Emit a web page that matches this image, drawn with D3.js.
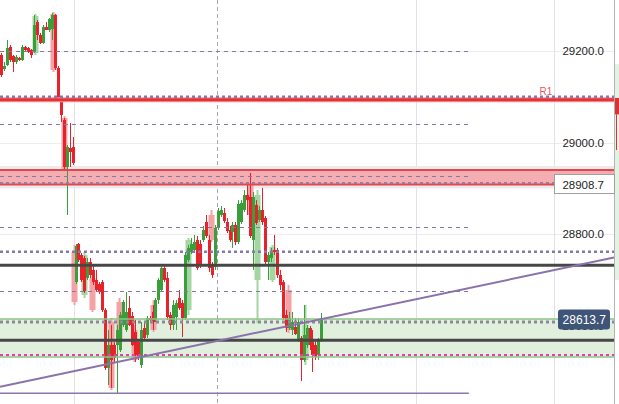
<!DOCTYPE html>
<html><head><meta charset="utf-8">
<script src="https://cdn.jsdelivr.net/npm/d3@7"></script>
<style>html,body{margin:0;padding:0;background:#fff;overflow:hidden}text{font-family:"Liberation Sans",Arial,sans-serif}</style>
</head><body><svg id="c" width="619" height="404"></svg>
<script>
// ---- DATA ----
const opens = [29191.9,29161.3,29170.1,29209.4,29189.7,29176.6,29185.4,29181.0,29209.4,29207.2,29202.9,29198.5,29264.1,29235.7,29218.2,29253.2,29246.6,29248.8,29279.4,29163.5,29097.9,29049.8,28947.0,28988.6,28990.7,
28695.5,28778.6,28754.6,28748.0,28704.3,28739.2,28721.8,28699.9,28691.1,28695.5,28634.3,28507.5,28557.7,28557.7,28557.7,28546.8,28601.5,28590.6,28638.6,28621.1,28586.2,28564.3,28514.0,28594.9,28579.6,28616.8,28629.9,28612.4,28656.2,28678.0,28726.1,28704.3,28623.3,28601.5,28618.9,28660.5,28649.6,28616.8,28743.6,28761.1,28765.5,28787.4,28778.6,28787.4,28826.7,28787.4,28730.5,28728.3,28815.8,28842.0,28846.4,28826.7,28809.2,28804.9,28820.2,28783.0,28826.7,28853.0,28885.8,28881.4,28787.4,28863.9,28831.1,28853.0,28835.5,28739.2,28748.0,28765.5,28765.5,28710.8,28695.5,28623.3,28594.9,28590.6,28597.1,28568.7,28573.1,28524.9,28557.7,28594.9,28568.7,28557.7,28535.9,28568.7];
const highs = [29196.3,29176.6,29224.7,29213.8,29191.9,29191.9,29187.6,29213.8,29211.6,29209.4,29205.0,29279.4,29268.5,29240.0,29257.5,29264.1,29272.8,29283.8,29281.6,29167.9,29102.3,29054.2,28995.1,29043.2,29012.6,
28778.6,28780.8,28758.9,28752.4,28748.0,28748.0,28732.7,28721.8,28695.5,28699.9,28638.6,28590.6,28601.5,28564.3,28601.5,28629.9,28656.2,28673.6,28664.9,28629.9,28612.4,28568.7,28608.0,28608.0,28621.1,28621.1,28645.2,28660.5,28704.3,28730.5,28730.5,28717.4,28629.9,28656.2,28656.2,28678.0,28656.2,28761.1,28776.4,28791.7,28798.3,28796.1,28787.4,28818.0,28842.0,28798.3,28739.2,28820.2,28857.3,28861.7,28857.3,28835.5,28818.0,28826.7,28826.7,28874.6,28874.6,28896.7,28912.0,28933.9,28892.3,28874.6,28861.7,28901.1,28839.8,28761.1,28769.9,28798.3,28769.9,28721.8,28699.9,28634.3,28629.9,28629.9,28616.8,28616.8,28577.4,28645.2,28601.5,28599.3,28590.6,28568.7,28573.1,28627.7];
const lows = [29143.8,29156.9,29167.9,29176.6,29154.7,29172.2,29178.8,29178.8,29200.7,29196.3,29185.4,29196.3,29224.7,29216.0,29216.0,29246.6,29242.2,29224.7,29159.1,29089.1,29045.4,28940.4,28842.0,28947.0,28951.4,
28691.1,28739.2,28695.5,28671.5,28699.9,28704.3,28688.9,28673.6,28669.3,28629.9,28503.1,28470.3,28463.7,28520.6,28452.8,28542.4,28597.1,28586.2,28599.3,28555.6,28520.6,28524.9,28507.5,28568.7,28573.1,28608.0,28590.6,28608.0,28647.4,28673.6,28695.5,28612.4,28590.6,28590.6,28590.6,28634.3,28575.3,28612.4,28739.2,28756.7,28761.1,28721.8,28726.1,28783.0,28791.7,28717.4,28704.3,28721.8,28809.2,28837.7,28824.5,28802.7,28783.0,28769.9,28776.4,28778.6,28822.4,28848.6,28842.0,28791.7,28721.8,28820.2,28826.7,28820.2,28732.7,28699.9,28739.2,28754.6,28704.3,28678.0,28612.4,28586.2,28590.6,28579.6,28579.6,28564.3,28479.0,28520.6,28551.2,28546.8,28498.7,28524.9,28524.9,28564.3];
const closes = [29148.2,29167.9,29207.2,29181.0,29176.6,29187.6,29181.0,29209.4,29202.9,29198.5,29191.9,29257.5,29235.7,29218.2,29253.2,29246.6,29270.7,29279.4,29163.5,29093.5,29060.7,28947.0,28990.7,28979.8,28955.8,
28774.2,28743.6,28699.9,28675.8,28739.2,28710.8,28695.5,28678.0,28673.6,28634.3,28507.5,28557.7,28524.9,28529.3,28590.6,28623.3,28651.8,28629.9,28601.5,28557.7,28535.9,28529.3,28590.6,28573.1,28616.8,28612.4,28608.0,28656.2,28699.9,28726.1,28699.9,28618.9,28601.5,28645.2,28649.6,28638.6,28616.8,28754.6,28769.9,28778.6,28783.0,28726.1,28732.7,28809.2,28796.1,28726.1,28710.8,28813.6,28850.8,28853.0,28828.9,28807.0,28787.4,28820.2,28783.0,28866.1,28868.3,28885.8,28874.6,28796.1,28881.4,28824.5,28853.0,28826.7,28739.2,28754.6,28758.9,28761.1,28710.8,28688.9,28616.8,28594.9,28616.8,28608.0,28581.8,28608.0,28524.9,28579.6,28594.9,28557.7,28535.9,28531.5,28568.7,28613.7];

// faded (higher-timeframe shadow) candles
const fadedBar   = [11.3, 17.3, 21.0, 24.5, 28.0, 30.6, 37.1, 39.8, 44.9, 51.3, 63.1, 70.6, 84.0, 86.3, 91.3, 96.7, 102.5];
const fadedOpen  = [29196.3,29281.6,29054.2,28761.1,28667.1,28704.3,28608.0,28651.8,28590.6,28645.2,28634.3,28842.0,28912.0,28699.9,28699.9,28678.0,28524.9];
const fadedHigh  = [29281.6,29286.0,29058.5,28776.4,28761.1,28710.8,28616.8,28660.5,28601.5,28656.2,28791.7,28853.0,28933.9,28896.7,28776.4,28688.9,28645.2];
const fadedLow   = [29191.9,29154.7,28936.1,28645.2,28660.5,28629.9,28459.3,28564.3,28520.6,28586.2,28623.3,28783.0,28839.8,28605.8,28695.5,28584.0,28514.0];
const fadedClose = [29277.2,29159.1,28940.4,28651.8,28754.6,28634.3,28463.7,28568.7,28524.9,28590.6,28787.4,28787.4,28842.0,28885.8,28772.0,28590.6,28601.5];

const priceTicks = [29200, 29000, 28800, 28600];
const priceTickLabels = ["29200.0", "29000.0", "28800.0", "28600.0"];
const timeGridLines = [24.5, 140, 186.5];   // bar index of vertical grid lines
const sessionBreaks = [72.6];              // dashed vertical separators
const dashedLevels = [29200, 29040.4, 28927.3, 28815.1, 28675.8];
const levelEndBar = 157.8;
const bottomLevel = 28452.1;
const r1Level = 29094.2, r1DotLevel = 29100.7;
const redZone = [28908.7, 28940.4];
const redZoneDot = 28912.0;
const greenZone = [28531.5, 28614.6];
const greenZoneDot = 28608.0;
const thickDottedLevels = [28761.8];
const darkLevels = [28732.0, 28568.0];
const magentaLevel = 28535.9;
const trendLine = [[-0.5, 28466.5], [206.8, 28749.0]];
const lastPrice = 28613.7, zoneLabel = 28908.7;

// ---- SCALES ----
const W = 619, H = 404, plotRight = 614;
const x = d3.scaleLinear().domain([-0.5, 208.5]).range([0, W]);
const y = d3.scaleLinear().domain([28428.7, 29312.2]).range([H, 0]);
const svg = d3.select("#c");

// grid
svg.append("g").selectAll("line").data(priceTicks).join("line")
  .attr("x1", 0).attr("x2", plotRight).attr("y1", d => Math.round(y(d)) + 0.5).attr("y2", d => Math.round(y(d)) + 0.5)
  .attr("stroke", "#ececee").attr("stroke-width", 1);
svg.append("g").selectAll("line").data(timeGridLines).join("line")
  .attr("x1", d => Math.round(x(d)) + 0.5).attr("x2", d => Math.round(x(d)) + 0.5).attr("y1", 0).attr("y2", H)
  .attr("stroke", "#e2e2e6").attr("stroke-width", 1);
svg.append("g").selectAll("line").data(sessionBreaks).join("line")
  .attr("x1", d => Math.round(x(d)) + 0.5).attr("x2", d => Math.round(x(d)) + 0.5).attr("y1", 0).attr("y2", H)
  .attr("stroke", "#a8a4b8").attr("stroke-width", 1).attr("stroke-dasharray", "4,3");

// zones (behind candles)
const rz = [y(redZone[1]), y(redZone[0])];
svg.append("rect").attr("x", 0).attr("width", plotRight).attr("y", rz[0] - 4).attr("height", rz[1] - rz[0] + 8).attr("fill", "#ebebeb");
svg.append("rect").attr("x", 0).attr("width", plotRight).attr("y", rz[0]).attr("height", rz[1] - rz[0]).attr("fill", "#f4aeb1");
const gz = [y(greenZone[1]), y(greenZone[0])];
svg.append("rect").attr("x", 0).attr("width", plotRight).attr("y", gz[0]).attr("height", gz[1] - gz[0]).attr("fill", "#e1efdd");

// faded candles
const fIdx = d3.range(fadedBar.length);
const fUp = "#a3d6a1", fDown = "#f3a2a5";
const fg = svg.append("g");
fg.selectAll("line").data(fIdx).join("line")
  .attr("x1", i => Math.round(x(fadedBar[i])) + 0.5).attr("x2", i => Math.round(x(fadedBar[i])) + 0.5)
  .attr("y1", i => y(fadedHigh[i])).attr("y2", i => y(fadedLow[i]))
  .attr("stroke", i => fadedClose[i] >= fadedOpen[i] ? fUp : fDown).attr("stroke-width", 2);
fg.selectAll("rect").data(fIdx).join("rect")
  .attr("x", i => Math.round(x(fadedBar[i])) - 2.5).attr("width", 6)
  .attr("y", i => y(Math.max(fadedOpen[i], fadedClose[i])))
  .attr("height", i => Math.max(1, Math.abs(y(fadedOpen[i]) - y(fadedClose[i]))))
  .attr("fill", i => fadedClose[i] >= fadedOpen[i] ? fUp : fDown);

// candles
const N = closes.length;
const idx = d3.range(N);
const up = "#3a9f3a", down = "#e8222a";
const cg = svg.append("g");
cg.selectAll("line").data(idx).join("line")
  .attr("x1", i => Math.round(x(i)) + 0.5).attr("x2", i => Math.round(x(i)) + 0.5)
  .attr("y1", i => y(highs[i])).attr("y2", i => y(lows[i]))
  .attr("stroke", i => closes[i] >= opens[i] ? up : down).attr("stroke-width", 1);
cg.selectAll("rect").data(idx).join("rect")
  .attr("x", i => Math.round(x(i)) - 1).attr("width", 3)
  .attr("y", i => y(Math.max(opens[i], closes[i])))
  .attr("height", i => Math.max(1, Math.abs(y(opens[i]) - y(closes[i]))))
  .attr("fill", i => closes[i] >= opens[i] ? up : down);

// zone borders
svg.append("g").selectAll("line").data(redZone).join("line")
  .attr("x1", 0).attr("x2", plotRight).attr("y1", d => y(d)).attr("y2", d => y(d))
  .attr("stroke", "#e2464e").attr("stroke-width", 2);
svg.append("g").selectAll("line").data(greenZone).join("line")
  .attr("x1", 0).attr("x2", plotRight).attr("y1", d => y(d)).attr("y2", d => y(d))
  .attr("stroke", "#8cc489").attr("stroke-width", 1.5);

// thin dashed levels
svg.append("g").selectAll("line").data(dashedLevels).join("line")
  .attr("x1", 0).attr("x2", x(levelEndBar)).attr("y1", d => Math.round(y(d)) + 0.5).attr("y2", d => Math.round(y(d)) + 0.5)
  .attr("stroke", "#8878a8").attr("stroke-width", 1).attr("stroke-dasharray", "4,4");
svg.append("line").attr("x1", 0).attr("x2", x(levelEndBar)).attr("y1", y(bottomLevel)).attr("y2", y(bottomLevel))
  .attr("stroke", "#8c78a8").attr("stroke-width", 1.5);

// R1
svg.append("line").attr("x1", 0).attr("x2", plotRight).attr("y1", y(r1Level)).attr("y2", y(r1Level))
  .attr("stroke", "#f4a0a2").attr("stroke-width", 5);
svg.append("line").attr("x1", 0).attr("x2", plotRight).attr("y1", y(r1Level)).attr("y2", y(r1Level))
  .attr("stroke", "#e83036").attr("stroke-width", 3);
svg.append("line").attr("x1", 0).attr("x2", plotRight).attr("y1", y(r1DotLevel)).attr("y2", y(r1DotLevel))
  .attr("stroke", "#8878a8").attr("stroke-width", 2.5).attr("stroke-dasharray", "3,3");
svg.append("text").attr("x", 546).attr("y", y(r1DotLevel) - 2).attr("text-anchor", "middle")
  .attr("font-size", 10).attr("fill", "#e05a5a").text("R1");

// dotted thick levels
svg.append("line").attr("x1", 0).attr("x2", plotRight).attr("y1", y(redZoneDot)).attr("y2", y(redZoneDot))
  .attr("stroke", "#9a7aa0").attr("stroke-width", 2).attr("stroke-dasharray", "3,3");
svg.append("g").selectAll("line").data(thickDottedLevels).join("line")
  .attr("x1", 0).attr("x2", plotRight).attr("y1", d => y(d)).attr("y2", d => y(d))
  .attr("stroke", "#8878a8").attr("stroke-width", 2.5).attr("stroke-dasharray", "3,3");
svg.append("line").attr("x1", 0).attr("x2", plotRight).attr("y1", y(greenZoneDot)).attr("y2", y(greenZoneDot))
  .attr("stroke", "#8a8a98").attr("stroke-width", 3).attr("stroke-dasharray", "3,3");
svg.append("g").selectAll("line").data(darkLevels).join("line")
  .attr("x1", 0).attr("x2", plotRight).attr("y1", d => y(d)).attr("y2", d => y(d))
  .attr("stroke", "#474747").attr("stroke-width", 3);
svg.append("line").attr("x1", 0).attr("x2", plotRight).attr("y1", y(magentaLevel)).attr("y2", y(magentaLevel))
  .attr("stroke", "#e040a8").attr("stroke-width", 2).attr("stroke-dasharray", "3,3");

// trend line
svg.append("line")
  .attr("x1", x(trendLine[0][0])).attr("y1", y(trendLine[0][1]))
  .attr("x2", x(trendLine[1][0])).attr("y2", y(trendLine[1][1]))
  .attr("stroke", "#8a72aa").attr("stroke-width", 2);

// right panel strip
svg.append("line").attr("x1", plotRight + 0.5).attr("x2", plotRight + 0.5).attr("y1", 0).attr("y2", H)
  .attr("stroke", "#b4b4b8");
svg.append("rect").attr("x", plotRight + 1).attr("width", 5).attr("y", y(29172)).attr("height", y(28700) - y(29172)).attr("fill", "#e4f2e2");
svg.append("rect").attr("x", plotRight + 1).attr("width", 5).attr("y", y(29098)).attr("height", y(29062) - y(29098)).attr("fill", "#d83232");
svg.append("line").attr("x1", plotRight + 2.5).attr("x2", plotRight + 2.5).attr("y1", y(29062)).attr("y2", y(28984)).attr("stroke", "#d83232");

// price axis
const ax = d3.axisLeft(y).tickValues(priceTicks).tickSize(0).tickPadding(0)
  .tickFormat((d, i) => priceTickLabels[i]);
const axg = svg.append("g").attr("transform", "translate(604,0)").call(ax);
axg.select(".domain").remove();
axg.selectAll("text").attr("font-size", 11.5).attr("fill", "#1e1e1e").attr("font-family", "Liberation Sans, Arial, sans-serif");

// price labels
const zl = svg.append("g");
zl.append("rect").attr("x", 554.5).attr("y", y(zoneLabel) - 10).attr("width", 60).attr("height", 19)
  .attr("fill", "#fff").attr("stroke", "#a0a0a0");
zl.append("text").attr("x", 604).attr("y", y(zoneLabel)).attr("dy", "0.35em").attr("text-anchor", "end")
  .attr("font-size", 11.5).attr("fill", "#1e1e1e").text(d3.format(".1f")(zoneLabel));
const ll = svg.append("g");
ll.append("rect").attr("x", 558).attr("y", y(lastPrice) - 10).attr("width", 52).attr("height", 20).attr("rx", 3)
  .attr("fill", "#3e5478");
ll.append("text").attr("x", 606).attr("y", y(lastPrice)).attr("dy", "0.35em").attr("text-anchor", "end")
  .attr("font-size", 12).attr("fill", "#fff").text(d3.format(".1f")(lastPrice));
</script></body></html>
